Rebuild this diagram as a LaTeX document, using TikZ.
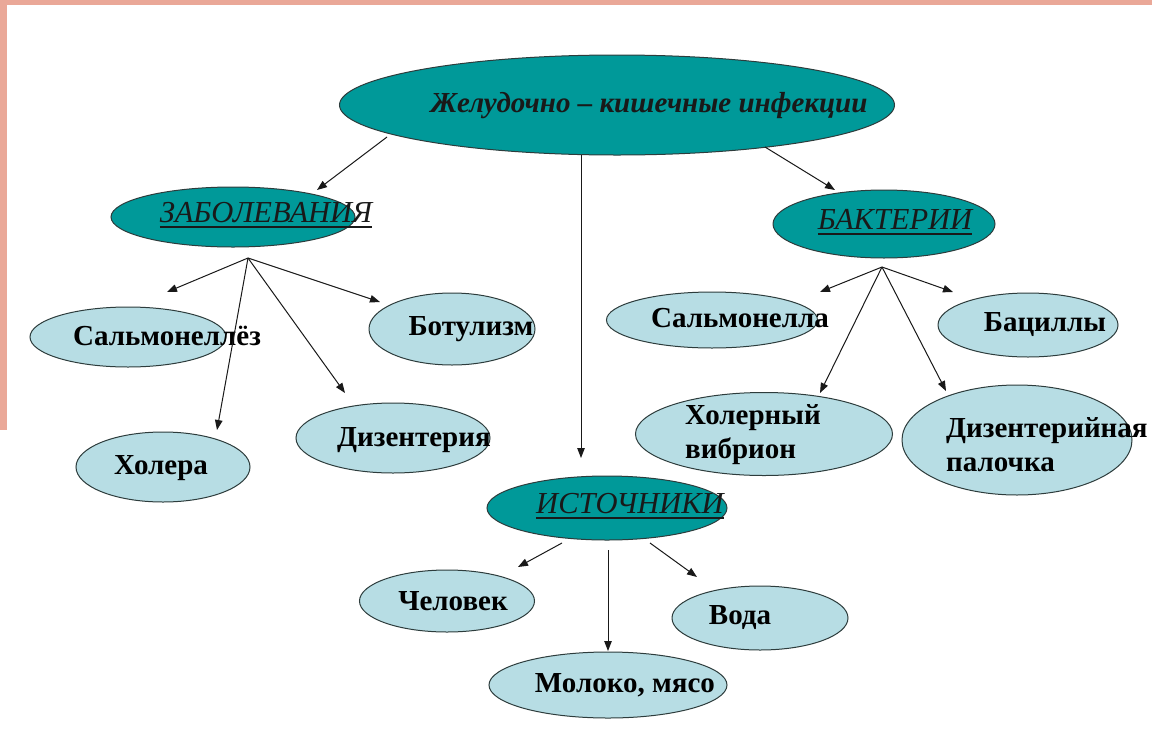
\documentclass[tikz,border=0pt]{standalone}
\usepackage{fontspec}
\setmainfont{Liberation Serif}
\usetikzlibrary{arrows.meta,shapes.geometric}
\definecolor{tealdark}{RGB}{0,153,153}
\definecolor{tealpale}{RGB}{183,221,228}
\definecolor{rim}{RGB}{45,60,60}
\definecolor{pinkA}{RGB}{234,168,152}
\newcommand\myul[1]{\setbox0\hbox{#1}\rlap{\rule[-5pt]{\wd0}{2pt}}\box0}
\begin{document}
\begin{tikzpicture}[x=1pt,y=-1pt,
  darkell/.style={ellipse,draw=rim,line width=1pt,fill=tealdark,inner sep=0pt},
  paleell/.style={ellipse,draw=rim,line width=1pt,fill=tealpale,inner sep=0pt},
  lbl/.style={font=\fontsize{29}{34}\selectfont\bfseries,text=black,inner sep=0pt,align=left},
  head/.style={font=\fontsize{30.5}{33}\selectfont\itshape,text=black!90,inner sep=0pt},
  titletext/.style={font=\fontsize{29}{33}\selectfont\bfseries\itshape,text=black!90,inner sep=0pt},
  arr/.style={-{Triangle[length=10pt,width=7.5pt]},line width=1pt,draw=black!90}]
\useasboundingbox (0,0) rectangle (1152,737);
\fill[white] (0,0) rectangle (1152,737);
% slide background edges
\fill[pinkA] (0,0) rectangle (1152,5);
\fill[pinkA] (0,0) rectangle (7,430);

% title
\node[darkell,minimum width=555pt,minimum height=100pt] (top) at (617,105) {};
\node[titletext] (toptext) at (649,106) {Желудочно – кишечные инфекции};

% main categories
\node[darkell,minimum width=244pt,minimum height=60pt] (dis) at (233,217) {};
\node[head] (distext) at (266,215) {\myul{ЗАБОЛЕВАНИЯ}};
\node[darkell,minimum width=222pt,minimum height=68pt] (bac) at (884,224) {};
\node[head] (bactext) at (895,222) {\myul{БАКТЕРИИ}};
\node[darkell,minimum width=240pt,minimum height=64pt] (src) at (607,508) {};
\node[head] (srctext) at (630,506) {\myul{ИСТОЧНИКИ}};

% diseases
\node[paleell,minimum width=196pt,minimum height=60pt] (salm) at (128,337) {};
\node[lbl] (salmtext) at (167,336) {Сальмонеллёз};
\node[paleell,minimum width=166pt,minimum height=72pt] (botu) at (452,329) {};
\node[lbl] (botutext) at (471,329) {Ботулизм};
\node[paleell,minimum width=174pt,minimum height=70pt] (chol) at (163,467) {};
\node[lbl] (choltext) at (161,468) {Холера};
\node[paleell,minimum width=194pt,minimum height=70pt] (dyse) at (393,438) {};
\node[lbl] (dysetext) at (414,440) {Дизентерия};

% bacteria
\node[paleell,minimum width=211pt,minimum height=56pt] (salb) at (712,320) {};
\node[lbl] (salbtext) at (740,318) {Сальмонелла};
\node[paleell,minimum width=180pt,minimum height=64pt] (baci) at (1028,325) {};
\node[lbl] (bacitext) at (1045,325) {Бациллы};
\node[paleell,minimum width=257pt,minimum height=83pt] (vibr) at (764,434) {};
\node[lbl,anchor=west] (vibrtext) at (685,435) {Холерный\\вибрион};
\node[paleell,minimum width=230pt,minimum height=110pt] (stick) at (1017,440) {};
\node[lbl,anchor=west] (sticktext) at (946,445) {Дизентерийная\\палочка};

% sources
\node[paleell,minimum width=175pt,minimum height=62pt] (human) at (447,601) {};
\node[lbl] (humantext) at (453,601) {Человек};
\node[paleell,minimum width=176pt,minimum height=64pt] (water) at (760,618) {};
\node[lbl] (watertext) at (740,618) {Вода};
\node[paleell,minimum width=238pt,minimum height=66pt] (food) at (608,685) {};
\node[lbl] (foodtext) at (625,685) {Молоко, мясо};

% hubs and arrow ends
\coordinate (t1) at (387,137); \coordinate (t1e) at (317,190);
\coordinate (t2) at (765,147); \coordinate (t2e) at (835,190);
\coordinate (t3) at (581,155); \coordinate (t3e) at (581,458);
\draw[arr] (t1) -- (t1e);
\draw[arr] (t2) -- (t2e);
\draw[arr] (t3) -- (t3e);

\coordinate (dh) at (248,258);
\coordinate (e1) at (167,292); \coordinate (e2) at (217,430);
\coordinate (e3) at (345,393); \coordinate (e4) at (380,302);
\draw[arr] (dh) -- (e1);
\draw[arr] (dh) -- (e2);
\draw[arr] (dh) -- (e3);
\draw[arr] (dh) -- (e4);

\coordinate (bh) at (882,267);
\coordinate (b1) at (820,292); \coordinate (b2) at (820,393);
\coordinate (b3) at (946,391); \coordinate (b4) at (953,292);
\draw[arr] (bh) -- (b1);
\draw[arr] (bh) -- (b2);
\draw[arr] (bh) -- (b3);
\draw[arr] (bh) -- (b4);

\coordinate (s1) at (562,543); \coordinate (s1e) at (518,567);
\coordinate (s2) at (608,550); \coordinate (s2e) at (608,651);
\coordinate (s3) at (650,543); \coordinate (s3e) at (697,577);
\draw[arr] (s1) -- (s1e);
\draw[arr] (s2) -- (s2e);
\draw[arr] (s3) -- (s3e);
\end{tikzpicture}
\end{document}
